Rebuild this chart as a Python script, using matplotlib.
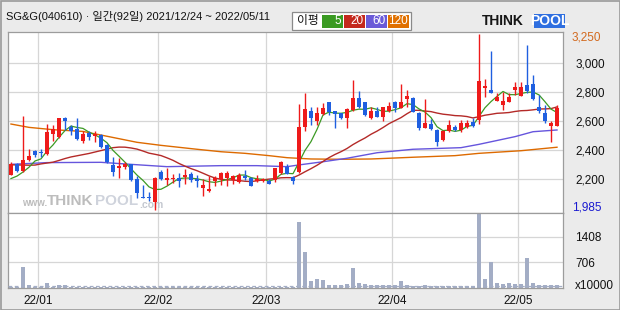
import numpy as np
import pandas as pd
import matplotlib
matplotlib.use("Agg")
import matplotlib.pyplot as plt
from matplotlib.patches import Rectangle

# ---------------- data ----------------
dates = (["2021-12-24", "2021-12-27", "2021-12-28", "2021-12-29", "2021-12-30"]
         + [f"2022-01-{d:02d}" for d in [3, 4, 5, 6, 7, 10, 11, 12, 13, 14, 17, 18, 19, 20, 21, 24, 25, 26, 27, 28]]
         + [f"2022-02-{d:02d}" for d in [3, 4, 7, 8, 9, 10, 11, 14, 15, 16, 17, 18, 21, 22, 23, 24, 25, 28]]
         + [f"2022-03-{d:02d}" for d in [2, 3, 4, 7, 8, 10, 11, 14, 15, 16, 17, 18, 21, 22, 23, 24, 25, 28, 29, 30, 31]]
         + [f"2022-04-{d:02d}" for d in [1, 4, 5, 6, 7, 8, 11, 12, 13, 14, 15, 18, 19, 20, 21, 22, 25, 26, 27, 28, 29]]
         + [f"2022-05-{d:02d}" for d in [2, 3, 4, 6, 9, 10, 11]])

opens = [2232, 2305, 2259, 2335, 2393, 2388, 2374, 2514, 2494, 2623,
         2561, 2547, 2466, 2517, 2499, 2505, 2436, 2298, 2276, 2287,
         2303, 2202, 2080, 2078, 2045, 2248, 2197, 2200, 2209, 2214,
         2236, 2202, 2140, 2117, 2190, 2202, 2209, 2197, 2182, 2225,
         2211, 2188, 2190, 2188, 2193, 2241, 2283, 2218, 2252, 2563,
         2671, 2604, 2650, 2731, 2671, 2655, 2625, 2678, 2763, 2731,
         2621, 2671, 2632, 2671, 2735, 2694, 2754, 2763, 2655, 2556,
         2581, 2540, 2471, 2533, 2563, 2540, 2563, 2597, 2609, 2828,
         2816, 2740, 2712, 2735, 2816, 2777, 2850, 2855, 2701, 2655,
         2570, 2570]
highs = [2319, 2312, 2639, 2407, 2402, 2407, 2581, 2572, 2623, 2632,
         2577, 2623, 2531, 2533, 2533, 2512, 2443, 2352, 2345, 2321,
         2303, 2225, 2161, 2115, 2216, 2266, 2278, 2237, 2243, 2273,
         2250, 2227, 2204, 2220, 2220, 2250, 2255, 2232, 2243, 2264,
         2218, 2230, 2210, 2202, 2280, 2326, 2303, 2223, 2719, 2797,
         2700, 2700, 2724, 2731, 2671, 2659, 2694, 2885, 2809, 2731,
         2700, 2700, 2700, 2735, 2740, 2855, 2816, 2770, 2662, 2754,
         2614, 2545, 2540, 2609, 2574, 2609, 2609, 2625, 3200, 2892,
         3085, 2793, 2804, 2793, 2873, 2873, 3126, 2919, 2781, 2712,
         2602, 2712]
lows = [2228, 2250, 2250, 2324, 2352, 2356, 2370, 2462, 2485, 2540,
        2508, 2469, 2448, 2471, 2459, 2414, 2314, 2225, 2207, 2271,
        2190, 2069, 2069, 2052, 1985, 2197, 2163, 2175, 2145, 2168,
        2181, 2145, 2083, 2112, 2152, 2163, 2152, 2168, 2175, 2195,
        2156, 2183, 2183, 2170, 2179, 2234, 2234, 2165, 2241, 2533,
        2574, 2574, 2643, 2643, 2551, 2616, 2551, 2671, 2694, 2639,
        2614, 2632, 2604, 2662, 2662, 2690, 2701, 2662, 2540, 2556,
        2540, 2432, 2464, 2528, 2533, 2528, 2551, 2563, 2581, 2770,
        2797, 2740, 2678, 2731, 2781, 2777, 2793, 2747, 2655, 2586,
        2459, 2570]
closes = [2305, 2259, 2335, 2361, 2370, 2379, 2526, 2547, 2623, 2604,
          2535, 2478, 2514, 2494, 2510, 2421, 2321, 2252, 2292, 2303,
          2195, 2103, 2069, 2069, 2211, 2204, 2211, 2207, 2191, 2232,
          2197, 2190, 2163, 2133, 2209, 2243, 2243, 2220, 2232, 2207,
          2156, 2202, 2202, 2170, 2276, 2321, 2236, 2190, 2563, 2685,
          2625, 2655, 2690, 2662, 2648, 2621, 2685, 2763, 2701, 2643,
          2671, 2632, 2697, 2706, 2694, 2735, 2775, 2666, 2556, 2586,
          2545, 2459, 2533, 2574, 2540, 2586, 2590, 2570, 2878, 2843,
          2797, 2770, 2740, 2770, 2839, 2839, 2809, 2752, 2671, 2602,
          2586, 2690]
volumes = [40, 40, 576, 82, 40, 40, 137, 40, 82, 82,
           40, 40, 40, 40, 40, 40, 40, 40, 40, 40,
           40, 40, 40, 40, 40, 40, 40, 40, 40, 40,
           40, 40, 40, 40, 40, 40, 40, 40, 40, 40,
           40, 40, 40, 40, 40, 40, 40, 40, 1810, 987,
           200, 247, 219, 82, 82, 82, 110, 557, 146, 110,
           82, 82, 82, 82, 82, 192, 82, 55, 55, 82,
           55, 55, 55, 55, 55, 55, 55, 55, 2029, 247,
           706, 146, 110, 146, 110, 110, 823, 146, 82, 82,
           82, 82]

# moving-average values at the left edge (history before the window)
ma5_head = [2205, 2222, 2250, 2283]
ma20_head = [2300, 2299, 2298, 2297, 2298, 2306, 2312, 2318, 2330, 2343,
             2354, 2362, 2370, 2378, 2388, 2398, 2408, 2418, 2422]
ma60_idx = [0, 6, 15, 20, 26, 35, 41, 46, 48, 52, 56, 61, 67, 75, 78, 84, 87, 91]
ma60_val = [2303, 2315, 2317, 2303, 2287, 2294, 2294, 2287, 2299, 2321,
            2345, 2383, 2407, 2418, 2441, 2494, 2528, 2540]
ma120_idx = [0, 3, 7, 12, 15, 18, 21, 25, 31, 35, 39, 43, 46, 50, 55, 60,
             63, 67, 74, 78, 85, 91]
ma120_val = [2581, 2558, 2542, 2530, 2505, 2480, 2455, 2434, 2407, 2390,
             2379, 2363, 2349, 2340, 2338, 2340, 2345, 2352, 2363, 2379,
             2397, 2421]

price_ticks = [2200, 2400, 2600, 2800, 3000]
vol_ticks = [706, 1408]
month_labels = ["22/01", "22/02", "22/03", "22/04", "22/05"]
title = "SG&G(040610) · 일간(92일) 2021/12/24 ~ 2022/05/11"
max_label, min_label = "3,250", "1,985"
legend_items = [("5", "#3a9a22"), ("20", "#c4281c"), ("60", "#6a5ad8"), ("120", "#e07000")]

# ---------------- figure ----------------
W, H = 620, 310
plt.rcParams["font.family"] = ["Liberation Sans", "Noto Sans CJK KR", "DejaVu Sans"]
fig = plt.figure(figsize=(6.2, 3.1), dpi=100)
fig.patch.set_facecolor("#ebebeb")


def fx(x):
    return x / W


def fy(y):
    return 1 - y / H


L, R = 7.5, 563.0
PT, PB, VB = 31.5, 212.5, 288.0
ax = fig.add_axes([fx(L), fy(PB), (R - L) / W, (PB - PT) / H])
axv = fig.add_axes([fx(L), fy(VB), (R - L) / W, (VB - PB) / H])

RED, BLUE = "#ee1a1a", "#1f5fe0"
GRID = "#d6d6d6"
SPINE = "#9c9c9c"

o = np.array(opens, float)
h = np.array(highs, float)
l = np.array(lows, float)
c = np.array(closes, float)
v = np.array(volumes, float)
idx = np.arange(len(c))
cols = np.where(c >= o, RED, BLUE)

# moving averages
cs = pd.Series(c)
ma5 = cs.rolling(5).mean().to_numpy()
ma5[:4] = ma5_head
ma20 = cs.rolling(20).mean().to_numpy()
ma20[:19] = ma20_head

xmin, xmax = -0.58, 92.0
for a in (ax, axv):
    a.set_facecolor("white")
    a.set_xlim(xmin, xmax)
    for s in a.spines.values():
        s.set_color(SPINE)
        s.set_linewidth(0.9)

month_pos = [dates.index(d) - 0.45 for d in ["2022-01-03", "2022-02-03", "2022-03-02", "2022-04-01", "2022-05-02"]]

# price panel
ax.set_ylim(1971, 3219)
for p in price_ticks:
    ax.axhline(p, color=GRID, lw=0.9, zorder=0)
for m in month_pos:
    ax.axvline(m, color=GRID, lw=0.9, zorder=0)

# watermark
wm_kw = dict(transform=fig.transFigure, va="center", zorder=0.5)
ax.text(fx(22), fy(203), "www.", color="#bdbdbd", fontsize=7, fontweight="bold", **wm_kw)
ax.text(fx(47), fy(201), "THINK", color="#bdbdbd", fontsize=11, fontweight="bold", **wm_kw)
ax.text(fx(95), fy(201), "POOL", color="#cfd3dc", fontsize=11, fontweight="bold", **wm_kw)
ax.text(fx(139), fy(205), ".com", color="#c4c8d0", fontsize=7.5, fontweight="bold", **wm_kw)

ax.plot(ma120_idx, ma120_val, color="#dd6a00", lw=1.0, zorder=2)
ax.plot(ma60_idx, ma60_val, color="#6655dd", lw=1.0, zorder=2)
ax.plot(idx, ma20, color="#b42a28", lw=1.0, zorder=2)
ax.plot(idx, ma5, color="#3c9a24", lw=0.9, zorder=2)

ax.vlines(idx, l, h, colors=cols, lw=1.0, zorder=3)
body_bottom = np.minimum(o, c)
body_h = np.maximum(np.abs(c - o), 9)
ax.bar(idx, body_h, bottom=body_bottom, width=0.8, color=cols, lw=0, zorder=4)

ax.yaxis.tick_right()
ax.set_yticks(price_ticks)
ax.set_yticklabels([f"{p:,}" for p in price_ticks])
ax.tick_params(axis="y", length=0, pad=9, labelsize=8.5, colors="#111111")
ax.tick_params(axis="x", length=0, labelbottom=False)
ax.set_xticks([])

fig.text(fx(572), fy(38), max_label, color="#d2691e", fontsize=8.5, va="center")
fig.text(fx(572), fy(207), min_label, color="#1a1ad0", fontsize=8.5, va="center")

# volume panel
axv.set_ylim(0, 2070)
for t in vol_ticks:
    axv.axhline(t, color=GRID, lw=0.9, zorder=0)
for m in month_pos:
    axv.axvline(m, color=GRID, lw=0.9, zorder=0)
axv.bar(idx, v, width=0.78, color="#a3adc5", lw=0, zorder=2)
axv.axhline(60, color="#a3adc5", lw=0.9, ls=(0, (3, 2)), zorder=3)
axv.yaxis.tick_right()
axv.set_yticks(vol_ticks)
axv.set_yticklabels([str(t) for t in vol_ticks])
axv.tick_params(axis="y", length=0, pad=9, labelsize=8.5, colors="#111111")
axv.set_xticks(month_pos)
axv.set_xticklabels(month_labels)
axv.tick_params(axis="x", length=0, pad=5, labelsize=8.5, colors="#111111")
fig.text(fx(575), fy(286), "x10000", color="#111111", fontsize=8.5, va="center")

# header
fig.text(fx(6), fy(17), title, fontsize=8, va="center", color="#111111")

# legend box
fig.patches.append(Rectangle((fx(292), fy(30)), (411 - 292) / W, 18 / H,
                             transform=fig.transFigure, facecolor="white",
                             edgecolor="#8a8a8a", lw=0.9))
fig.text(fx(297), fy(21), "이평", fontsize=8.5, va="center", color="#111111")
x0 = 322
for lab, col in legend_items:
    fig.patches.append(Rectangle((fx(x0), fy(27.5)), 20.5 / W, 12.5 / H,
                                 transform=fig.transFigure, facecolor=col, lw=0))
    fig.text(fx(x0 + 19.5), fy(21.2), lab, fontsize=8.5, va="center", ha="right", color="white")
    x0 += 22

# logo
fig.text(fx(482), fy(21), "THINK", fontsize=10, fontweight="bold", va="center", color="#151515")
fig.patches.append(Rectangle((fx(534), fy(28)), 31 / W, 14 / H,
                             transform=fig.transFigure, facecolor="#2f6fe0", lw=0))
fig.text(fx(549.5), fy(21), "POOL", fontsize=10, fontweight="bold", va="center", ha="center", color="white")

# outer border
fig.patches.append(Rectangle((0.5 / W, 0.5 / H), (W - 1) / W, (H - 1) / H,
                             transform=fig.transFigure, facecolor="none",
                             edgecolor="#9a9a9a", lw=1.2))

fig.savefig("out.png", dpi=100, facecolor=fig.get_facecolor())
